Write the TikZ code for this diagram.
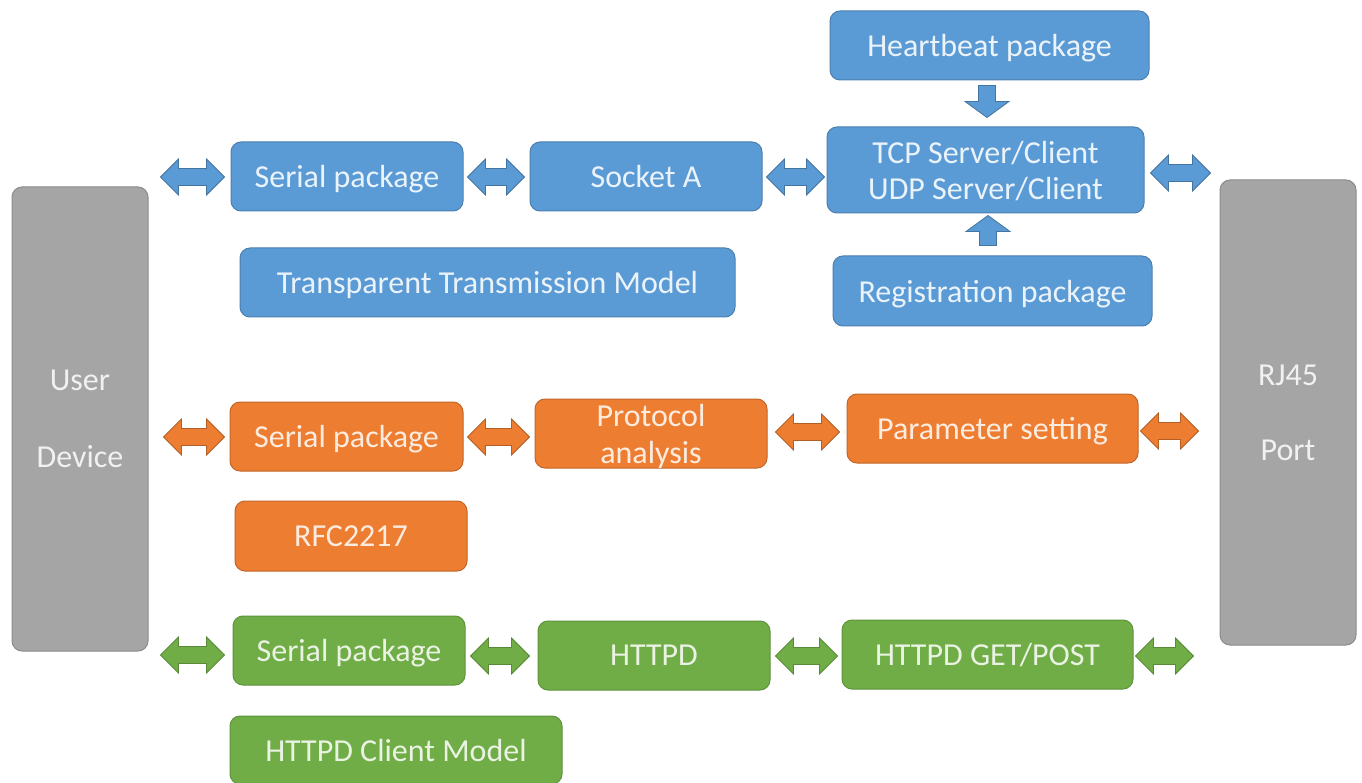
\documentclass[tikz,border=0pt]{standalone}
\usepackage{fontspec}
\setmainfont{Carlito}
\usetikzlibrary{calc}
\definecolor{cblue}{HTML}{5B9BD5}
\definecolor{corange}{HTML}{ED7D31}
\definecolor{cgreen}{HTML}{70AD47}
\definecolor{cgrey}{HTML}{A5A5A5}
\tikzset{
  box/.style={rounded corners=10pt, line width=1pt, inner sep=0pt, align=center,
    text depth=0pt, font=\fontsize{32}{37}\selectfont},
  bluebox/.style={box, fill=cblue, draw=cblue!82!black, text=white!88!cblue},
  orangebox/.style={box, fill=corange, draw=corange!82!black, text=white!85!corange},
  greenbox/.style={box, fill=cgreen, draw=cgreen!85!black, text=white!85!cgreen},
  greybox/.style={box, fill=cgrey, draw=cgrey!85!black, text=white!85!cgrey},
  bluearr/.style={fill=cblue, draw=cblue!75!black, line width=0.8pt, line join=miter},
  orangearr/.style={fill=corange, draw=corange!75!black, line width=0.8pt, line join=miter},
  greenarr/.style={fill=cgreen, draw=cgreen!80!black, line width=0.8pt, line join=miter},
}
% horizontal double arrow: #1 style, #2 left node, #3 right node, #4 y, #5 gap left, #6 gap right
\newcommand\hdarrow[6]{%
  \filldraw[#1] let \p1=(#2.east), \p2=(#3.west), \p3=(0,#4) in
    (\x1+#5pt,\y3) -- ++(18pt,18pt) -- ++(0pt,-9.5pt) -- (\x2-#6pt-18pt,\y3+8.5pt)
    -- ++(0pt,9.5pt) -- (\x2-#6pt,\y3) -- ++(-18pt,-18pt) -- ++(0pt,9.5pt)
    -- (\x1+#5pt+18pt,\y3-8.5pt) -- ++(0pt,-9.5pt) -- cycle;}
% vertical single arrow: #1 style, #2 base coordinate, #3 tip coordinate, #4 head offset (+16pt down / -16pt up)
\newcommand\vsarrow[4]{%
  \filldraw[#1] let \p1=(#2), \p2=(#3) in
    (\x1-8.5pt,\y1) -- (\x1-8.5pt,\y2#4) -- (\x1-22pt,\y2#4) -- (\x2,\y2)
    -- (\x1+22pt,\y2#4) -- (\x1+8.5pt,\y2#4) -- (\x1+8.5pt,\y1) -- cycle;}
\begin{document}
\begin{tikzpicture}[x=1pt,y=-1pt]
\useasboundingbox[fill=white] (0,0) rectangle (1362,783);
% side blocks
\node[greybox, minimum width=136pt, minimum height=464pt] (ud) at (80,419) {User\\[40pt]Device};
\node[greybox, minimum width=136pt, minimum height=465pt] (rj) at (1288,412.5) {RJ45\\[38pt]Port};
% blue
\node[bluebox, minimum width=319pt, minimum height=69pt] (hb) at (989.5,45.5) {Heartbeat package};
\node[bluebox, minimum width=317pt, minimum height=86pt] (tcp) at (985.5,170) {TCP Server/Client\\[-1pt]UDP Server/Client};
\node[bluebox, minimum width=319pt, minimum height=70pt] (reg) at (992.5,291) {Registration package};
\node[bluebox, minimum width=232pt, minimum height=69pt] (sp1) at (347,176.5) {Serial package};
\node[bluebox, minimum width=232pt, minimum height=69pt] (sock) at (646,176.5) {Socket A};
\node[bluebox, minimum width=495pt, minimum height=69pt] (ttm) at (487.5,282.5) {Transparent Transmission Model};
% orange
\node[orangebox, minimum width=233pt, minimum height=69pt] (sp2) at (346.5,436.5) {Serial package};
\node[orangebox, minimum width=232pt, minimum height=69pt] (pa) at (651,433.5) {Protocol\\analysis};
\node[orangebox, minimum width=291pt, minimum height=69pt] (ps) at (992.5,428.5) {Parameter setting};
\node[orangebox, minimum width=232pt, minimum height=70pt] (rfc) at (351,536) {RFC2217};
% green
\node[greenbox, minimum width=232pt, minimum height=69pt] (sp3) at (349,650.5) {Serial package};
\node[greenbox, minimum width=232pt, minimum height=69pt] (httpd) at (654,655.5) {HTTPD};
\node[greenbox, minimum width=291pt, minimum height=69pt] (get) at (987.5,654.5) {HTTPD GET/POST};
\node[greenbox, minimum width=332pt, minimum height=68pt] (hcm) at (396,750) {HTTPD Client Model};
% coordinates for vertical arrows
\coordinate (hbs) at ($(hb.south -| 987,0)+(0,5)$);
\coordinate (tcpn) at ($(tcp.north -| 987,0)+(0,-9)$);
\coordinate (regn) at ($(reg.north -| 988,0)+(0,-10)$);
\coordinate (tcps) at ($(tcp.south -| 988,0)+(0,2)$);
% blue arrows
\hdarrow{bluearr}{ud}{sp1}{177}{12}{6}
\hdarrow{bluearr}{sp1}{sock}{177}{4}{5}
\hdarrow{bluearr}{sock}{tcp}{177}{4}{2}
\hdarrow{bluearr}{tcp}{rj}{173}{6}{9}
\vsarrow{bluearr}{hbs}{tcpn}{+16pt}
\vsarrow{bluearr}{regn}{tcps}{-16pt}
% orange arrows
\hdarrow{orangearr}{ud}{sp2}{437}{15}{5}
\hdarrow{orangearr}{sp2}{pa}{437}{4}{5}
\hdarrow{orangearr}{pa}{ps}{432}{8}{7}
\hdarrow{orangearr}{ps}{rj}{431}{2}{21}
% green arrows
\hdarrow{greenarr}{ud}{sp3}{655}{12}{8}
\hdarrow{greenarr}{sp3}{httpd}{656}{5}{8}
\hdarrow{greenarr}{httpd}{get}{656}{5}{4}
\hdarrow{greenarr}{get}{rj}{656}{2}{26}
\end{tikzpicture}
\end{document}
